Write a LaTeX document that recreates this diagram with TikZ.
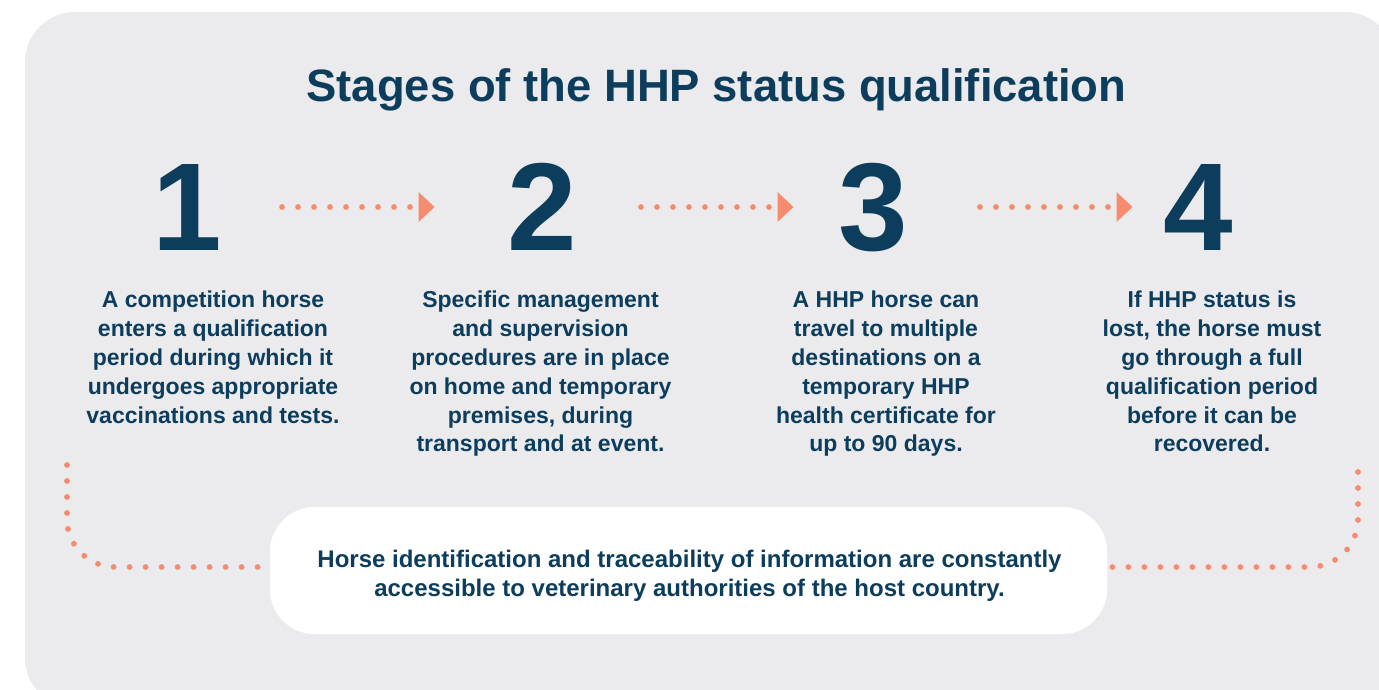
\documentclass[tikz,border=0pt]{standalone}
\usepackage{fontspec}
\setmainfont{Liberation Sans}
\definecolor{bggray}{HTML}{EBEBED}
\definecolor{navy}{HTML}{0D3D5C}
\definecolor{coral}{HTML}{F68B6E}
\begin{document}
\begin{tikzpicture}[x=1pt,y=-1pt,
  numstyle/.style={font=\fontsize{125}{125}\selectfont\bfseries, text=navy, inner sep=0pt, anchor=base},
  bodystyle/.style={font=\fontsize{23}{28.8}\selectfont\bfseries, text=navy, inner sep=0pt, anchor=north, align=center},
  dotline/.style={draw=coral, line width=5.8pt, line cap=round, dash pattern=on 0pt off 16pt},
  tipstyle/.style={fill=coral},
]
\fill[white] (0,0) rectangle (1379,690);
\useasboundingbox (0,0) rectangle (1379,690);
\fill[bggray, rounded corners=50pt] (25,12) rectangle (1395,708);

% title
\node[font=\fontsize{45.4}{54}\selectfont\bfseries, text=navy, inner sep=0pt, anchor=base] (title) at (716.5,102) {Stages of the HHP status qualification};

% numbers
\node[numstyle] (n1) at (187,250) {1};
\node[numstyle] (n2) at (542,250) {2};
\node[numstyle] (n3) at (873,250) {3};
\node[numstyle] (n4) at (1198,250) {4};

% descriptions
\node[bodystyle] (t1) at (213,291) {A competition horse\\enters a qualification\\period during which it\\undergoes appropriate\\vaccinations and tests.};
\node[bodystyle] (t2) at (540.5,291) {Specific management\\and supervision\\procedures are in place\\on home and temporary\\premises, during\\transport and at event.};
\node[bodystyle] (t3) at (886,291) {A HHP horse can\\travel to multiple\\destinations on a\\temporary HHP\\health certificate for\\up to 90 days.};
\node[bodystyle] (t4) at (1212,291) {If HHP status is\\lost, the horse must\\go through a full\\qualification period\\before it can be\\recovered.};

% arrows between numbers
\coordinate (a1s) at (282,207); \coordinate (a1e) at (410.5,207);
\coordinate (a2s) at (641,207); \coordinate (a2e) at (769.5,207);
\coordinate (a3s) at (980,207); \coordinate (a3e) at (1108.5,207);
\draw[dotline] (a1s) -- (a1e);
\draw[dotline] (a2s) -- (a2e);
\draw[dotline] (a3s) -- (a3e);
\fill[tipstyle] ([xshift=8pt,yshift=-15pt]a1e) -- ([xshift=24pt]a1e) -- ([xshift=8pt,yshift=15pt]a1e) -- cycle;
\fill[tipstyle] ([xshift=8pt,yshift=-15pt]a2e) -- ([xshift=24pt]a2e) -- ([xshift=8pt,yshift=15pt]a2e) -- cycle;
\fill[tipstyle] ([xshift=8pt,yshift=-15pt]a3e) -- ([xshift=24pt]a3e) -- ([xshift=8pt,yshift=15pt]a3e) -- cycle;

% bottom loop
\coordinate (ls) at (67,465);
\coordinate (rs) at (1358,472);
\node[fill=white, rounded corners=45pt, minimum width=837pt, minimum height=127pt, inner sep=0pt] (info) at (688.5,570.5) {};
\draw[dotline, rounded corners=48pt] (ls) -- (67,567) -- ([xshift=6pt]info.west |- 0,567);
\draw[dotline, rounded corners=48pt] (rs) -- (1358,567) -- ([xshift=-6pt]info.east |- 0,567);
\node[fill=white, rounded corners=45pt, minimum width=837pt, minimum height=127pt, inner sep=0pt] at (info) {};
\node[font=\fontsize{24}{29}\selectfont\bfseries, text=navy, inner sep=0pt, anchor=north, align=center] (infotext) at (689.5,549.5) {Horse identification and traceability of information are constantly\\accessible to veterinary authorities of the host country.};
\end{tikzpicture}
\end{document}
